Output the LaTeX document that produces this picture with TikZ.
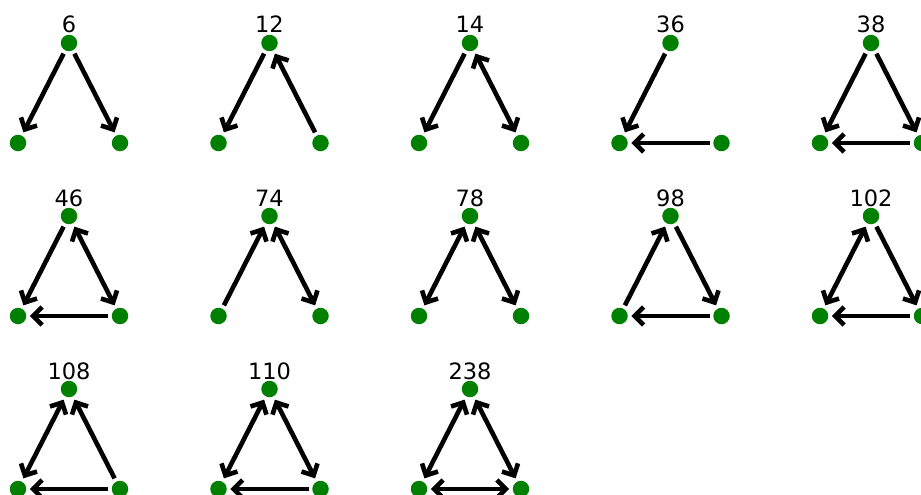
\documentclass[tikz,border=0pt]{standalone}
\usepackage{fontspec}
\setmainfont{DejaVu Sans}
\usetikzlibrary{arrows.meta}
\definecolor{dotGreen}{RGB}{0,128,0}

\tikzset{
    dot/.style={circle, fill=dotGreen, inner sep=0pt, minimum size=16.5pt},
    tie/.style={line width=4.6pt, shorten <=3.5pt, shorten >=3.5pt},
    tag/.style={font=\fontsize{22.5}{26}\selectfont, inner sep=0pt, anchor=base}
}

\begin{document}
\begin{tikzpicture}[x=1pt, y=-1pt, >={Straight Barb[length=9pt, width=18pt]}]
    \useasboundingbox (0,0) rectangle (921,495);
    \clip (0,0) rectangle (921,495);

    % One triad per code: column, row, then its arcs (from/to/tip)
    \foreach \code/\col/\row/\edges in {
        6/0/0/{t/l/->, t/r/->},
        12/1/0/{t/l/->, r/t/->},
        14/2/0/{t/l/->, t/r/<->},
        36/3/0/{t/l/->, r/l/->},
        38/4/0/{t/l/->, t/r/->, r/l/->},
        46/0/1/{t/l/->, t/r/<->, r/l/->},
        74/1/1/{l/t/->, t/r/<->},
        78/2/1/{t/l/<->, t/r/<->},
        98/3/1/{l/t/->, t/r/->, r/l/->},
        102/4/1/{t/l/<->, t/r/->, r/l/->},
        108/0/2/{t/l/<->, r/t/->, r/l/->},
        110/1/2/{t/l/<->, t/r/<->, r/l/->},
        238/2/2/{t/l/<->, t/r/<->, l/r/<->}} {
        \pgfmathsetmacro{\cx}{69+200.5*\col}
        \pgfmathsetmacro{\cy}{43+173*\row}

        % Nodes and code label
        \node[dot] (t\code) at (\cx,\cy) {};
        \node[dot] (l\code) at (\cx-51,\cy+100) {};
        \node[dot] (r\code) at (\cx+51,\cy+100) {};
        \node[tag] (n\code) at (\cx,\cy-10) {\code};

        % Arcs
        \foreach \a/\b/\tip in \edges {
            \draw[tie, \tip] (\a\code) -- (\b\code);
        }
    }
\end{tikzpicture}
\end{document}
